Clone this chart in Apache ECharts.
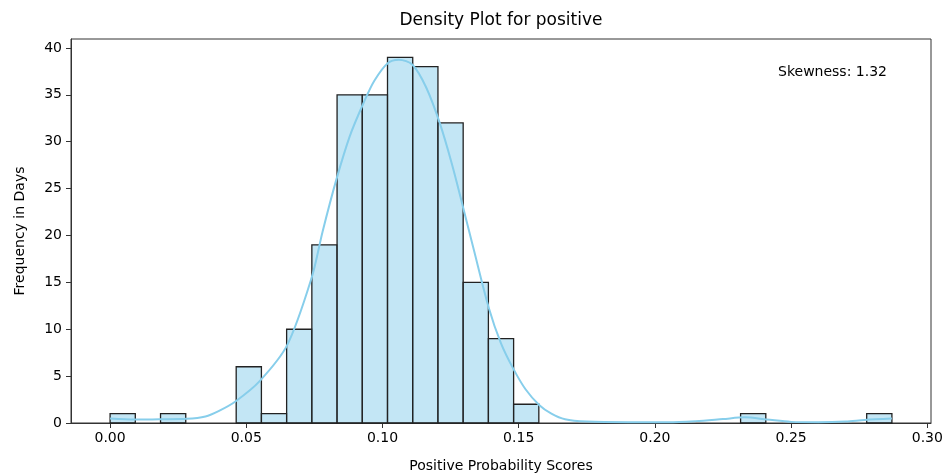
<!DOCTYPE html>
<html>
<head>
<meta charset="utf-8">
<script src="https://cdn.jsdelivr.net/npm/echarts@6/dist/echarts.min.js"></script>
<style>
  html, body { margin: 0; padding: 0; background: #fff; }
  #chart { width: 944px; height: 475px; }
</style>
</head>
<body>
<div id="chart"></div>
<script>
// histogram: 31 equal bins from 0 to 0.287
const binMin = 0;
const binMax = 0.287;
const binCounts = [1, 0, 1, 0, 0, 6, 1, 10, 19, 35, 35, 39, 38, 32, 15, 9, 2,
  0, 0, 0, 0, 0, 0, 0, 0, 1, 0, 0, 0, 0, 1];

// kde curve (x, count scale)
const kdeX = [0.000, 0.009, 0.018, 0.028, 0.035, 0.040, 0.046, 0.055, 0.065, 0.074,
  0.078, 0.083, 0.088, 0.093, 0.097, 0.102, 0.106, 0.111, 0.116, 0.121,
  0.1255, 0.1295, 0.1335, 0.139, 0.1435, 0.148, 0.1525, 0.1576, 0.162, 0.167,
  0.175, 0.190, 0.205, 0.215, 0.225, 0.233, 0.241, 0.250, 0.260, 0.270, 0.277, 0.287];
const kdeY = [0.47, 0.36, 0.40, 0.45, 0.70, 1.3, 2.3, 4.5, 8.3, 15.5,
  20.4, 25.9, 30.6, 34.1, 36.5, 38.4, 38.75, 38.2, 35.8, 32.0,
  27.6, 23.1, 18.5, 12.3, 8.5, 5.8, 3.6, 1.9, 1.0, 0.4,
  0.15, 0.08, 0.08, 0.2, 0.42, 0.6, 0.38, 0.12, 0.08, 0.15, 0.32, 0.47];

const xTicks = [0, 0.05, 0.10, 0.15, 0.20, 0.25, 0.30];
const yTicks = [0, 5, 10, 15, 20, 25, 30, 35, 40];
const skewness = 1.32;

const binWidth = (binMax - binMin) / binCounts.length;
const barData = [];
binCounts.forEach((c, i) => {
  if (c > 0) barData.push([binMin + i * binWidth, binMin + (i + 1) * binWidth, c]);
});
const lineData = kdeX.map((x, i) => [x, kdeY[i]]);

const font = 'DejaVu Sans';
const chart = echarts.init(document.getElementById('chart'));

chart.setOption({
  animation: false,
  grid: {
    left: 71, right: 13, top: 39, bottom: 52,
    outerBoundsMode: 'none',
    containLabel: false,
    show: true, borderColor: '#333', borderWidth: 1, backgroundColor: 'transparent'
  },
  xAxis: {
    type: 'value',
    min: -0.01435,
    max: 0.30135,
    name: 'Positive Probability Scores',
    nameLocation: 'middle',
    nameGap: 36,
    nameTextStyle: { fontFamily: font, fontSize: 14, color: '#000' },
    splitLine: { show: false },
    axisLine: { show: true, onZero: false, lineStyle: { color: '#333' } },
    axisTick: { show: true, length: 5, lineStyle: { color: '#333' }, customValues: xTicks },
    axisLabel: {
      fontFamily: font, fontSize: 14, color: '#000', margin: 8,
      customValues: xTicks,
      formatter: (v) => v.toFixed(2)
    }
  },
  yAxis: {
    type: 'value',
    min: 0,
    max: 40.95,
    name: 'Frequency in Days',
    nameLocation: 'middle',
    nameGap: 44,
    nameRotate: 90,
    nameTextStyle: { fontFamily: font, fontSize: 14, color: '#000' },
    splitLine: { show: false },
    axisLine: { show: true, onZero: false, lineStyle: { color: '#333' } },
    axisTick: { show: true, length: 5, lineStyle: { color: '#333' }, customValues: yTicks },
    axisLabel: {
      fontFamily: font, fontSize: 14, color: '#000', margin: 9,
      customValues: yTicks,
      formatter: (v) => String(Math.round(v))
    }
  },
  graphic: [
    {
      type: 'text', x: 501, y: 21,
      style: {
        text: 'Density Plot for positive', fontFamily: font, fontSize: 17,
        fill: '#000', textAlign: 'center', textVerticalAlign: 'middle'
      }
    },
    {
      type: 'text', x: 887, y: 72,
      style: {
        text: 'Skewness: ' + skewness.toFixed(2), fontFamily: font, fontSize: 14,
        fill: '#000', textAlign: 'right', textVerticalAlign: 'middle'
      }
    }
  ],
  series: [
    {
      type: 'custom',
      data: barData,
      encode: { x: [0, 1], y: 2 },
      z: 2,
      renderItem: (params, api) => {
        const p0 = api.coord([api.value(0), 0]);
        const p1 = api.coord([api.value(1), api.value(2)]);
        return {
          type: 'rect',
          shape: { x: p0[0], y: p1[1], width: p1[0] - p0[0], height: p0[1] - p1[1] },
          style: { fill: 'rgba(135,206,235,0.5)', stroke: '#222', lineWidth: 1.3 }
        };
      }
    },
    {
      type: 'line',
      data: lineData,
      smooth: 0.3,
      showSymbol: false,
      z: 3,
      lineStyle: { color: '#87CEEB', width: 2 },
      itemStyle: { color: '#87CEEB' }
    }
  ]
});
</script>
</body>
</html>
